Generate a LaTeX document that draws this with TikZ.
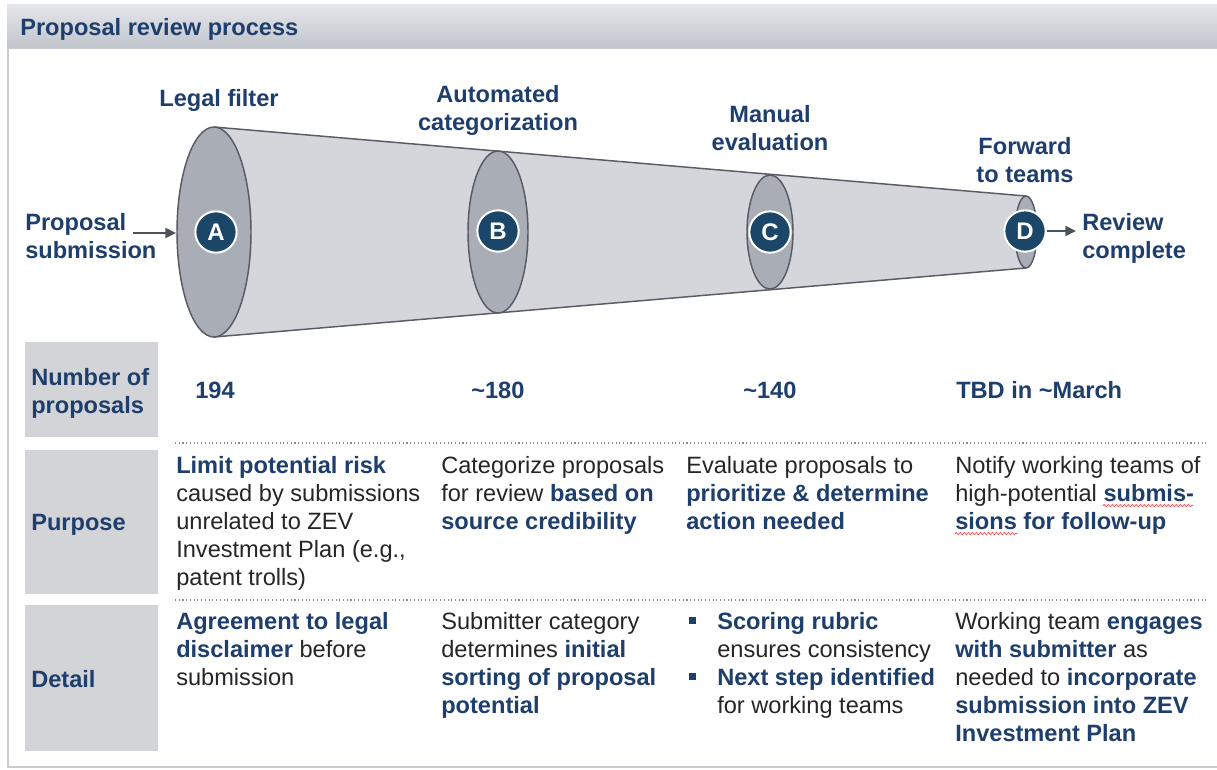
\documentclass[tikz,border=0pt]{standalone}
\usepackage{fontspec}
\setmainfont{Liberation Sans}
\usetikzlibrary{decorations.pathmorphing,arrows.meta}

\definecolor{navy}{RGB}{30,62,108}
\definecolor{txt}{RGB}{38,38,38}
\definecolor{circ}{RGB}{27,70,103}
\definecolor{bodyc}{RGB}{213,214,219}
\definecolor{ringc}{RGB}{168,173,182}
\definecolor{edgec}{RGB}{88,92,100}
\definecolor{cellc}{RGB}{211,212,216}
\definecolor{hdtop}{RGB}{230,231,235}
\definecolor{hdbot}{RGB}{192,196,204}
\definecolor{framec}{RGB}{200,203,209}
\definecolor{arrc}{RGB}{77,82,89}
\definecolor{dotc}{RGB}{140,140,140}

\newcommand{\hl}[1]{\textbf{\color{navy}#1}}

\tikzset{
 txtcell/.style={anchor=north west, inner sep=0, align=left, text=txt, font=\fontsize{17.7}{21}\selectfont},
 lab/.style={anchor=north, inner sep=0, align=center, text=navy, font=\fontsize{17.7}{21}\selectfont\bfseries},
 labl/.style={anchor=north west, inner sep=0, align=left, text=navy, font=\fontsize{17.7}{21}\selectfont\bfseries},
 cellbox/.style={fill=cellc, draw=none},
 letter/.style={circle, fill=circ, draw=white, line width=1.5pt, minimum size=31pt, inner sep=0, text=white, font=\fontsize{18}{21}\selectfont\bfseries},
 funnel/.style={draw=edgec, line width=1.1pt},
 flow/.style={draw=arrc, line width=1.3pt, -{Triangle[length=8pt,width=7.5pt]}},
 dots/.style={draw=dotc, line width=0.8pt, dotted},
 squig/.style={draw=red!75, line width=0.5pt, decorate, decoration={snake, amplitude=0.8pt, segment length=3pt}},
 bulletsq/.style={fill=navy, draw=none},
}

\begin{document}
\begin{tikzpicture}[x=0.75pt,y=-0.75pt]
\useasboundingbox (0,0) rectangle (1217,769);
\fill[white] (0,0) rectangle (1217,769);

% header and frame
\shade[top color=hdtop, bottom color=hdbot] (7,4) rectangle (1217,48);
\draw[framec, line width=1pt] (7,48.5) -- (1217,48.5);
\draw[framec, line width=1.5pt] (8,48) -- (8,767) -- (1217,767);
\node[labl] (title) at (20,15.5) {\strut Proposal review process};

% funnel
\coordinate (cA) at (214,232);
\coordinate (cB) at (498,232);
\coordinate (cC) at (770,232);
\coordinate (cD) at (1026,232);
\coordinate (tA) at (214,127);
\coordinate (tD) at (1026,196);
\coordinate (bD) at (1026,268);
\coordinate (bA) at (214,337);
\fill[bodyc] (tA) -- (tD) -- (bD) -- (bA) -- cycle;
\draw[funnel] (tA) -- (tD);
\draw[funnel] (bA) -- (bD);
\draw[funnel, fill=ringc] (cA) ellipse [x radius=37, y radius=105];
\draw[funnel, fill=ringc] (cB) ellipse [x radius=30, y radius=81];
\draw[funnel, fill=ringc] (cC) ellipse [x radius=23, y radius=57];
\draw[funnel, fill=ringc] (cD) ellipse [x radius=11, y radius=36];

\node[letter] (A) at (216,232) {A};
\node[letter] (B) at (498,231) {B};
\node[letter] (C) at (770,232) {C};
\node[letter] (D) at (1025,231) {D};

% stage labels
\node[lab] (lA) at (219,86.5) {\strut Legal filter};
\node[lab] (lB) at (498,82.5) {\strut Automated\\categorization};
\node[lab] (lC) at (770,102.5) {\strut Manual\\evaluation};
\node[lab] (lD) at (1025,134.5) {\strut Forward\\to teams};

\node[labl] (inp) at (25,210.5) {\strut Proposal\\submission};
\node[labl] (outp) at (1082,210.5) {\strut Review\\complete};
\coordinate (inS) at (133,233);
\coordinate (inE) at (176,233);
\coordinate (outE) at (1076,231);
\draw[flow] (inS) -- (inE);
\draw[flow] (D.east) -- (outE);

% left column cells
\fill[cellbox] (25,342) rectangle (158,437);
\fill[cellbox] (25,450) rectangle (158,594);
\fill[cellbox] (25,605) rectangle (158,751);
\node[labl] (hN) at (31,365.5) {\strut Number of\\proposals};
\node[labl] (hP) at (31,510.5) {\strut Purpose};
\node[labl] (hD) at (31,667.5) {\strut Detail};

% numbers
\node[labl] (n1) at (195,378.5) {\strut 194};
\node[labl] (n2) at (471,378.5) {\strut \textasciitilde180};
\node[labl] (n3) at (743,378.5) {\strut \textasciitilde140};
\node[labl] (n4) at (956,378.5) {\strut TBD in \textasciitilde March};

% separators
\coordinate (s1a) at (175,443);
\coordinate (s1b) at (1207,443);
\coordinate (s2a) at (175,600);
\coordinate (s2b) at (1207,600);
\draw[dots] (s1a) -- (s1b);
\draw[dots] (s2a) -- (s2b);

% purpose row
\node[txtcell] (p1) at (176,453.5) {\strut\hl{Limit potential risk}\\caused by submissions\\unrelated to ZEV\\Investment Plan (e.g.,\\patent trolls)};
\node[txtcell] (p2) at (441,453.5) {\strut Categorize proposals\\for review \hl{based on}\\\hl{source credibility}};
\node[txtcell] (p3) at (686,453.5) {\strut Evaluate proposals to\\\hl{prioritize \& determine}\\\hl{action needed}};
\node[txtcell] (p4) at (955,453.5) {\strut Notify working teams of\\high-potential \hl{submis-}\\\hl{sions for follow-up}};
\coordinate (w1a) at (1103,505.5);
\coordinate (w1b) at (1193,505.5);
\coordinate (w2a) at (955,533.5);
\coordinate (w2b) at (1017,533.5);
\draw[squig] (w1a) -- (w1b);
\draw[squig] (w2a) -- (w2b);

% detail row
\node[txtcell] (d1) at (176,609.5) {\strut\hl{Agreement to legal}\\\hl{disclaimer} before\\submission};
\node[txtcell] (d2) at (441,609.5) {\strut Submitter category\\determines \hl{initial}\\\hl{sorting of proposal}\\\hl{potential}};
\fill[bulletsq] (689,617) rectangle (695.5,623.5);
\fill[bulletsq] (689,673) rectangle (695.5,679.5);
\node[txtcell] (d3a) at (717,609.5) {\strut\hl{Scoring rubric}\\ensures consistency};
\node[txtcell] (d3b) at (717,665.5) {\strut\hl{Next step identified}\\for working teams};
\node[txtcell] (d4) at (955,609.5) {\strut Working team \hl{engages}\\\hl{with submitter} as\\needed to \hl{incorporate}\\\hl{submission into ZEV}\\\hl{Investment Plan}};
\end{tikzpicture}
\end{document}
